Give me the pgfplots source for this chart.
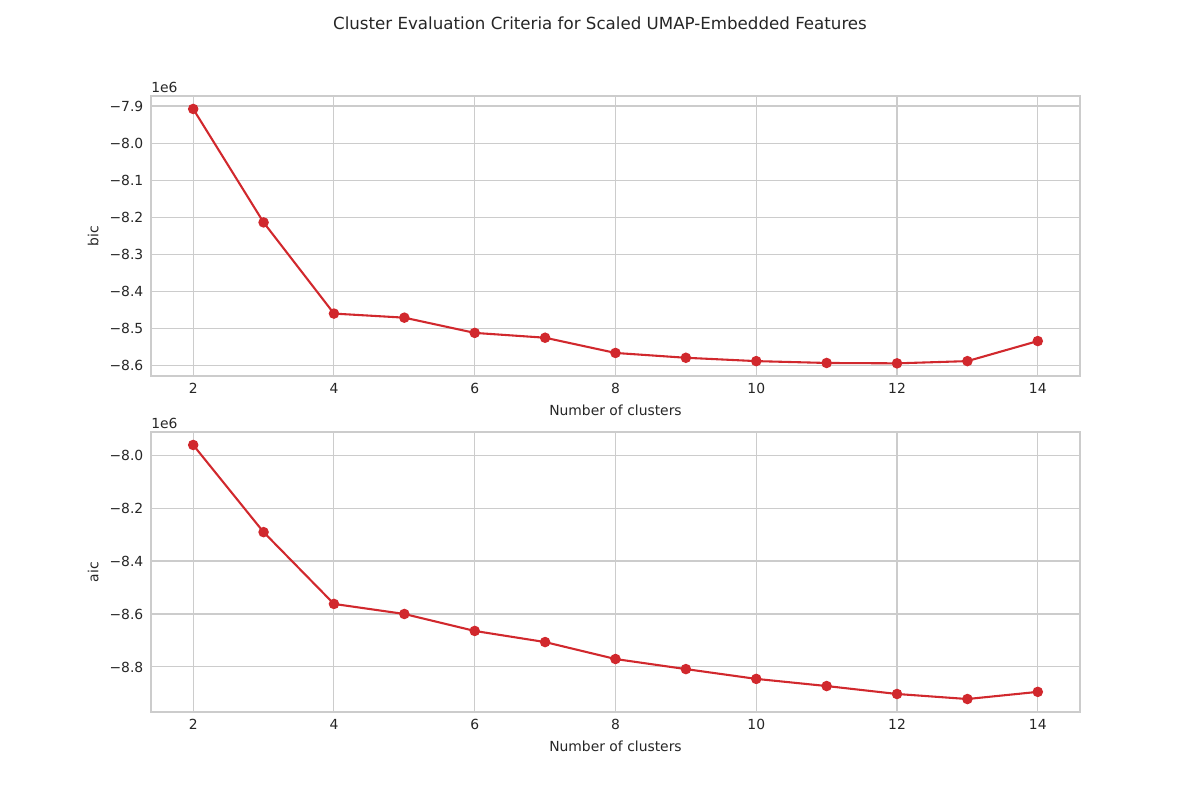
\documentclass[border=0pt]{standalone}
\usepackage{pgfplots}
\pgfplotsset{compat=1.18}
\usepackage{fontspec}
\setmainfont{DejaVu Sans}
\definecolor{gridc}{HTML}{CCCCCC}
\definecolor{txt}{HTML}{262626}
\definecolor{linec}{HTML}{D1282D}
\pgfplotsset{
  mystyle/.style={
    scale only axis,
    width=668.9pt, height=201.6pt,
    xmin=1.4, xmax=14.6,
    xtick={2,4,6,8,10,12,14},
    grid=major,
    clip mode=individual,
    major grid style={draw=gridc, line width=0.75pt},
    axis line style={draw=gridc, line width=0.8pt},
    major tick length=0pt,
    tick style={draw=none},
    ticklabel style={font=\fontsize{10}{12}\selectfont, text=txt},
    label style={font=\fontsize{10}{12}\selectfont, text=txt},
    /pgf/number format/assume math mode=true,
    xticklabel style={yshift=-2pt},
    yticklabel style={xshift=-2pt},
    xlabel={Number of clusters},
    xlabel style={yshift=-1pt},
    ylabel style={yshift=1pt},
  },
  myline/.style={color=linec, line width=1.5pt, mark=*, mark size=3pt, mark options={fill=linec, draw=linec, solid}},
}
\begin{document}
\begin{tikzpicture}
\useasboundingbox (0,0) rectangle (864pt,576pt);
\node[font=\fontsize{12}{14}\selectfont, text=txt] at (432pt,559.4pt) {Cluster Evaluation Criteria for Scaled UMAP-Embedded Features};
\begin{axis}[mystyle, at={(108.7pt,305.3pt)}, anchor=south west,
  ymin=-8.627, ymax=-7.873,
  ytick={-8.6,-8.5,-8.4,-8.3,-8.2,-8.1,-8.0,-7.9},
  yticklabels={−8.6,−8.5,−8.4,−8.3,−8.2,−8.1,−8.0,−7.9},
  ylabel={bic}]
\addplot[myline] coordinates {(2,-7.908) (3,-8.2135) (4,-8.459) (5,-8.470) (6,-8.511) (7,-8.524) (8,-8.565) (9,-8.578) (10,-8.587) (11,-8.592) (12,-8.593) (13,-8.587) (14,-8.533)};
\end{axis}
\node[anchor=south west, font=\fontsize{10}{12}\selectfont, text=txt, inner sep=0pt] at (108.7pt,509.0pt) {1e6};
\begin{axis}[mystyle, at={(108.7pt,63.36pt)}, anchor=south west,
  ymin=-8.970, ymax=-7.913,
  ytick={-8.8,-8.6,-8.4,-8.2,-8.0},
  yticklabels={−8.8,−8.6,−8.4,−8.2,−8.0},
  ylabel={aic}]
\addplot[myline] coordinates {(2,-7.962) (3,-8.291) (4,-8.562) (5,-8.600) (6,-8.664) (7,-8.706) (8,-8.770) (9,-8.808) (10,-8.845) (11,-8.872) (12,-8.902) (13,-8.921) (14,-8.894)};
\end{axis}
\node[anchor=south west, font=\fontsize{10}{12}\selectfont, text=txt, inner sep=0pt] at (108.7pt,267.1pt) {1e6};
\end{tikzpicture}
\end{document}
